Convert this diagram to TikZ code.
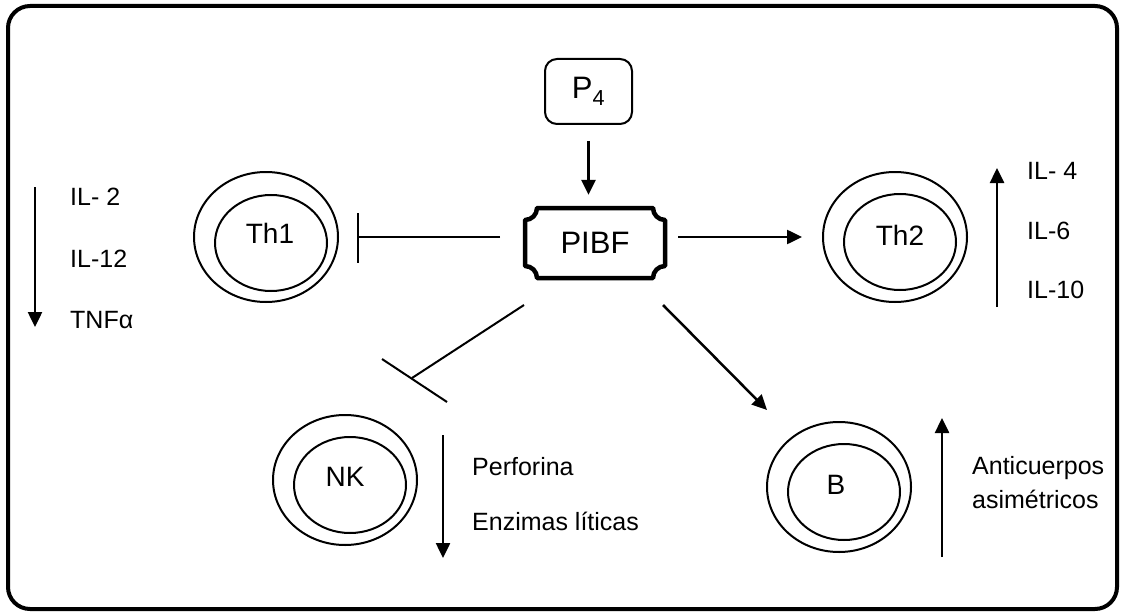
\documentclass[tikz,border=0pt]{standalone}
\usepackage{fontspec}
\setmainfont{Liberation Sans}
\usetikzlibrary{arrows.meta,shapes.geometric,calc}
\begin{document}
\begin{tikzpicture}[x=1pt,y=-1pt,
  cellout/.style={ellipse, draw, line width=2pt, minimum width=144pt, minimum height=130pt, inner sep=0pt},
  cellin/.style={ellipse, draw, line width=2pt, minimum width=112pt, minimum height=96pt, inner sep=0pt},
  celltxt/.style={font=\fontsize{28}{32}\selectfont, inner sep=0pt},
  lbl/.style={anchor=base west, font=\fontsize{25}{29}\selectfont, inner sep=0pt},
  arr/.style={line width=2.5pt, -{Triangle[length=15pt,width=14pt]}},
  inh/.style={line width=2pt},
  bigtxt/.style={font=\fontsize{31}{36}\selectfont}]
\useasboundingbox (0,0) rectangle (1124,615);
\draw[line width=4pt, rounded corners=22pt] (8,6) rectangle (1117,609);

% P4
\node[bigtxt, draw, line width=2pt, rounded corners=12pt, minimum width=87pt, minimum height=65pt, inner sep=0pt] (p4) at (588.5,91.5) {P\textsubscript{4}};

% PIBF
\node[bigtxt, minimum width=140pt, minimum height=70pt, inner sep=0pt] (pibf) at (595,243) {PIBF};
\draw[line width=4.5pt, line join=round]
  (537,208) -- (653,208) .. controls (653,214.6) and (658.4,220) .. (665,220)
  -- (665,266) .. controls (658.4,266) and (653,271.4) .. (653,278)
  -- (537,278) .. controls (537,271.4) and (531.6,266) .. (525,266)
  -- (525,220) .. controls (531.6,220) and (537,214.6) .. (537,208) -- cycle;

% cells
\node[cellout] (th1) at (266,237) {};
\node[cellin] (th1i) at (271,243) {};
\node[celltxt] (th1t) at (270,233) {Th1};

\node[cellout] (th2) at (895,237) {};
\node[cellin] (th2i) at (900,242) {};
\node[celltxt] (th2t) at (900,235) {Th2};

\node[cellout] (nk) at (345,480) {};
\node[cellin] (nki) at (350,485) {};
\node[celltxt] (nkt) at (345,477) {NK};

\node[cellout] (b) at (839,487) {};
\node[cellin] (bi) at (844,492) {};
\node[celltxt] (bt) at (836,485) {B};

% connectors
\draw[arr, shorten <=16pt, shorten >=13pt] (p4.south) -- (p4.south |- pibf.north);

\coordinate (a1) at (500,237);
\coordinate (b1) at (358,237);
\draw[inh] (a1) -- (b1);
\draw[inh] (358,213) -- (358,263);

\coordinate (a2) at (678,237);
\coordinate (b2) at (802,237);
\draw[arr] (a2) -- (b2);

\coordinate (a3) at (524,305);
\coordinate (b3) at (412,378);
\draw[inh] (a3) -- (b3);
\draw[inh] (382,359) -- (447,402);

\coordinate (a4) at (663,305);
\coordinate (b4) at (767,410);
\draw[arr] (a4) -- (b4);

% lists
\coordinate (l1s) at (35,187);
\coordinate (l1e) at (35,327);
\draw[arr] (l1s) -- (l1e);
\node[lbl] (il2) at (70,205) {IL- 2};
\node[lbl] (il12) at (70,267) {IL-12};
\node[lbl] (tnf) at (70,328) {TNFα};

\coordinate (l2s) at (997,307);
\coordinate (l2e) at (997,168);
\draw[arr] (l2s) -- (l2e);
\node[lbl] (il4) at (1027,179) {IL- 4};
\node[lbl] (il6) at (1027,239.5) {IL-6};
\node[lbl] (il10) at (1027,298) {IL-10};

\coordinate (l3s) at (443,435);
\coordinate (l3e) at (443,558);
\draw[arr] (l3s) -- (l3e);
\node[lbl] (perf) at (472,475) {Perforina};
\node[lbl] (enz) at (472,530) {Enzimas líticas};

\coordinate (l4s) at (942,557);
\coordinate (l4e) at (942,418);
\draw[arr] (l4s) -- (l4e);
\node[lbl] (anti) at (972,474) {Anticuerpos};
\node[lbl] (asim) at (972,508) {asimétricos};
\end{tikzpicture}
\end{document}
